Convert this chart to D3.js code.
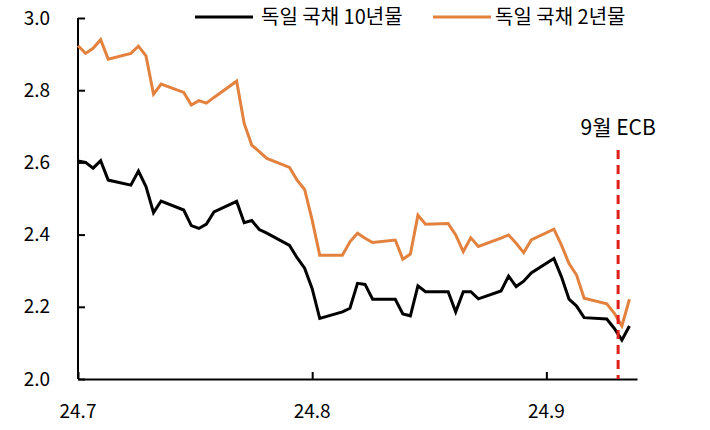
<!DOCTYPE html>
<html>
<head>
<meta charset="utf-8">
<script src="https://cdn.jsdelivr.net/npm/d3@7"></script>
<style>
  body { margin: 0; background: #fff; }
  svg text { font-family: "Noto Sans CJK KR", "Noto Sans", sans-serif; fill: #000; }
  .axis path, .axis line { stroke: #000; stroke-width: 2; }
</style>
</head>
<body>
<div id="chart"></div>
<script>
var dates = [
  "2024-07-01","2024-07-02","2024-07-03","2024-07-04","2024-07-05",
  "2024-07-08","2024-07-09","2024-07-10","2024-07-11","2024-07-12",
  "2024-07-15","2024-07-16","2024-07-17","2024-07-18","2024-07-19",
  "2024-07-22","2024-07-23","2024-07-24","2024-07-25","2024-07-26",
  "2024-07-29","2024-07-30","2024-07-31","2024-08-01","2024-08-02",
  "2024-08-05","2024-08-06","2024-08-07","2024-08-08","2024-08-09",
  "2024-08-12","2024-08-13","2024-08-14","2024-08-15","2024-08-16",
  "2024-08-19","2024-08-20","2024-08-21","2024-08-22","2024-08-23",
  "2024-08-26","2024-08-27","2024-08-28","2024-08-29","2024-08-30",
  "2024-09-02","2024-09-03","2024-09-04","2024-09-05","2024-09-06",
  "2024-09-09","2024-09-10","2024-09-11","2024-09-12"
];

var bund10y = [
  2.604, 2.600, 2.584, 2.605, 2.551,
  2.537, 2.576, 2.533, 2.461, 2.493,
  2.468, 2.425, 2.417, 2.429, 2.463,
  2.492, 2.433, 2.439, 2.414, 2.404,
  2.370, 2.336, 2.307, 2.250, 2.168,
  2.186, 2.196, 2.265, 2.262, 2.221,
  2.221, 2.180, 2.175, 2.258, 2.242,
  2.242, 2.186, 2.242, 2.242, 2.222,
  2.244, 2.285, 2.256, 2.271, 2.294,
  2.334, 2.283, 2.221, 2.202, 2.170,
  2.166, 2.140, 2.108, 2.147
];

var bund2y = [
  2.923, 2.902, 2.916, 2.940, 2.886,
  2.902, 2.922, 2.895, 2.789, 2.817,
  2.794, 2.759, 2.771, 2.764, 2.780,
  2.825, 2.708, 2.648, 2.630, 2.611,
  2.586, 2.551, 2.525, 2.440, 2.343,
  2.343, 2.380, 2.404, 2.390, 2.378,
  2.385, 2.332, 2.346, 2.454, 2.429,
  2.431, 2.399, 2.353, 2.391, 2.367,
  2.390, 2.399, 2.376, 2.350, 2.385,
  2.415, 2.371, 2.320, 2.288, 2.224,
  2.208, 2.182, 2.147, 2.221
];

var seriesNames = ["독일 국채 10년물", "독일 국채 2년물"];
var seriesColors = ["#000000", "#E2823E"];
var yTicks = [2.0, 2.2, 2.4, 2.6, 2.8, 3.0];
var xTickDates = ["2024-07-01", "2024-08-01", "2024-09-01"];
var xTickLabels = ["24.7", "24.8", "24.9"];
var ecbDate = "2024-09-10T12:00";
var ecbLabel = "9월 ECB";

var width = 710, height = 430;
var parse = d3.timeParse("%Y-%m-%d");
var parseFull = d3.timeParse("%Y-%m-%dT%H:%M");

var svg = d3.select("#chart").append("svg")
    .attr("width", width)
    .attr("height", height);

var x = d3.scaleTime()
    .domain([parse("2024-07-01"), parse("2024-09-13")])
    .range([78, 637]);

var y = d3.scaleLinear()
    .domain([2.0, 3.0])
    .range([379, 18]);

// y axis, ticks pointing inward
var yAxis = svg.append("g")
    .attr("class", "axis")
    .attr("transform", "translate(78,0)")
    .call(d3.axisRight(y).tickValues(yTicks).tickSizeInner(7).tickSizeOuter(0).tickFormat(""));
yAxis.select(".domain").attr("d", "M0," + y(3.0) + "V" + y(2.0));

svg.selectAll(".ylabel")
    .data(yTicks)
    .enter().append("text")
    .attr("class", "ylabel")
    .attr("x", 50)
    .attr("y", function(d) { return y(d); })
    .attr("dy", "0.35em")
    .attr("text-anchor", "end")
    .style("font-size", "19px")
    .text(function(d) { return d3.format(".1f")(d); });

// x axis
svg.append("g")
    .attr("class", "axis")
    .attr("transform", "translate(0,379)")
    .call(d3.axisTop(x).tickValues(xTickDates.map(parse)).tickSizeInner(7).tickSizeOuter(0).tickFormat(""));

svg.selectAll(".xlabel")
    .data(xTickDates)
    .enter().append("text")
    .attr("class", "xlabel")
    .attr("x", function(d) { return x(parse(d)); })
    .attr("y", 411)
    .attr("dy", "0.35em")
    .attr("text-anchor", "middle")
    .style("font-size", "19px")
    .text(function(d, i) { return xTickLabels[i]; });

// lines
var line = d3.line()
    .x(function(d) { return x(d.date); })
    .y(function(d) { return y(d.value); });

[bund2y, bund10y].forEach(function(values) {
  var idx = values === bund10y ? 0 : 1;
  var pts = dates.map(function(d, i) { return { date: parse(d), value: values[i] }; });
  svg.append("path")
      .datum(pts)
      .attr("fill", "none")
      .attr("stroke", seriesColors[idx])
      .attr("stroke-width", 3)
      .attr("stroke-linejoin", "miter")
      .attr("d", line);
});

// ECB marker
var ex = x(parseFull(ecbDate));
svg.append("line")
    .attr("x1", ex).attr("x2", ex)
    .attr("y1", 150).attr("y2", y(2.0))
    .attr("stroke", "#E0201B")
    .attr("stroke-width", 3)
    .attr("stroke-dasharray", "9,6");

svg.append("text")
    .attr("x", ex)
    .attr("y", 128)
    .attr("dy", "0.35em")
    .attr("text-anchor", "middle")
    .style("font-size", "21px")
    .text(ecbLabel);

// legend
var legendX = [195, 433];
var legend = svg.selectAll(".legend")
    .data(seriesNames)
    .enter().append("g")
    .attr("class", "legend")
    .attr("transform", function(d, i) { return "translate(" + legendX[i] + ",17)"; });

legend.append("line")
    .attr("x1", 0).attr("x2", 58)
    .attr("stroke", function(d, i) { return seriesColors[i]; })
    .attr("stroke-width", 3);

legend.append("text")
    .attr("x", function(d, i) { return i === 0 ? 66 : 62; })
    .attr("dy", "0.35em")
    .style("font-size", "20px")
    .text(function(d) { return d; });
</script>
</body>
</html>
